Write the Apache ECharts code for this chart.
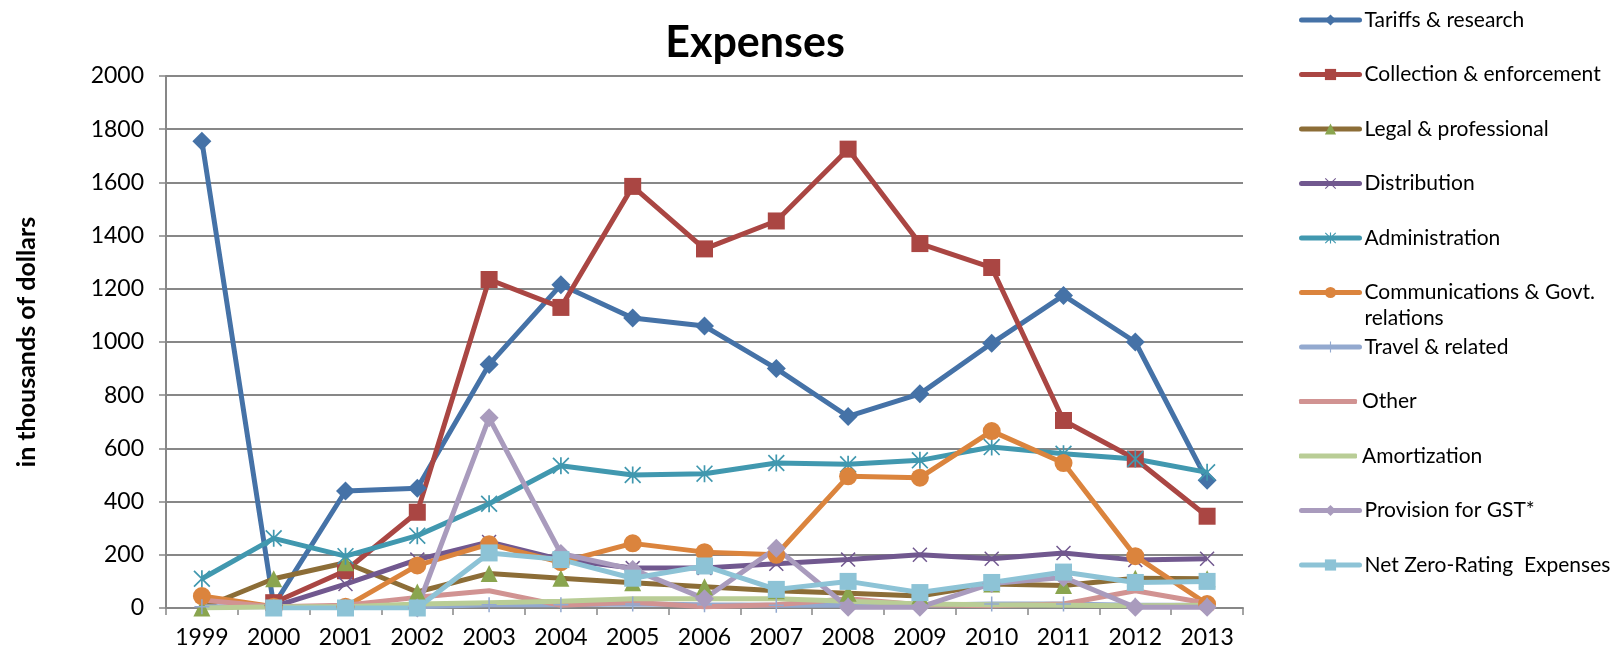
<!DOCTYPE html>
<html>
<head>
<meta charset="utf-8">
<script src="https://cdn.jsdelivr.net/npm/echarts@6/dist/echarts.min.js"></script>
<style>html,body{margin:0;padding:0;background:#fff;}#c{width:1612px;height:656px;}</style>
</head>
<body>
<div id="c"></div>
<script>
var years = ['1999','2000','2001','2002','2003','2004','2005','2006','2007','2008','2009','2010','2011','2012','2013'];
var yTicks = [0,200,400,600,800,1000,1200,1400,1600,1800,2000];
var seriesNames = ['Tariffs & research','Collection & enforcement','Legal & professional','Distribution','Administration','Communications & Govt. relations','Travel & related','Other','Amortization','Provision for GST*','Net Zero-Rating  Expenses'];

var tariffs      = [1755, 10, 440, 450, 915, 1215, 1090, 1060, 900, 720, 805, 995, 1175, 1000, 480];
var collection   = [null, 20, 140, 360, 1235, 1130, 1585, 1350, 1455, 1725, 1370, 1280, 705, 560, 345];
var legal        = [0, 110, 170, 60, 130, 112, 95, 80, 65, 55, 45, 90, 85, 112, 110];
var distribution = [null, 5, 90, 182, 248, 182, 150, 150, 166, 182, 200, 185, 207, 180, 185];
var administration = [110, 262, 195, 272, 392, 535, 500, 505, 545, 540, 555, 605, 580, 560, 510];
var communications = [45, 5, 5, 160, 240, 172, 243, 210, 200, 495, 490, 665, 545, 195, 15];
var travel       = [5, 5, 5, 5, 12, 12, 15, 12, 10, 10, 10, 15, 15, 10, 10];
var other        = [30, 5, 10, 40, 65, 10, 22, 5, 12, 35, 12, 8, 15, 65, 18];
var amortization = [0, 5, 5, 15, 20, 25, 35, 35, 35, 25, 15, 12, 10, 8, 10];
var provision    = [null, null, null, 0, 715, 205, 145, 35, 225, 3, 3, 92, 115, 3, 3];
var netZero      = [null, 0, 0, 0, 207, 182, 112, 158, 70, 100, 58, 96, 135, 96, 100];

var seriesData = [tariffs, collection, legal, distribution, administration, communications, travel, other, amortization, provision, netZero];

var X_PATH = 'path://M0,7 L7,0 L50,43 L93,0 L100,7 L57,50 L100,93 L93,100 L50,57 L7,100 L0,93 L43,50 Z';
var STAR_PATH = 'path://M0,7 L7,0 L50,43 L93,0 L100,7 L57,50 L100,93 L93,100 L50,57 L7,100 L0,93 L43,50 Z M45,0 L55,0 L55,100 L45,100 Z';
var PLUS_PATH = 'path://M45,0 L55,0 L55,45 L100,45 L100,55 L55,55 L55,100 L45,100 L45,55 L0,55 L0,45 L45,45 Z';

var styles = [
  {line:'#4572A7', mark:'#4572A7', symbol:'diamond', size:19},
  {line:'#AA4643', mark:'#AA4643', symbol:'rect', size:17},
  {line:'#8C6D37', mark:'#8AA54F', symbol:'triangle', size:17},
  {line:'#71588F', mark:'#71588F', symbol:X_PATH, size:15},
  {line:'#4198AF', mark:'#4198AF', symbol:STAR_PATH, size:17},
  {line:'#DB843D', mark:'#DB843D', symbol:'circle', size:18},
  {line:'#93A9CF', mark:'#93A9CF', symbol:PLUS_PATH, size:15},
  {line:'#D19392', mark:'#D19392', symbol:'none', size:0},
  {line:'#B9CD96', mark:'#B9CD96', symbol:'none', size:0},
  {line:'#A99BBD', mark:'#A99BBD', symbol:'diamond', size:19},
  {line:'#8DC3D6', mark:'#8DC3D6', symbol:'rect', size:17}
];

var legendCenters = [15, 69.5, 124, 178.5, 233, 287.5, 342, 396.5, 451, 505.5, 560];

var legends = seriesNames.map(function(n, i){
  var isComm = (i === 5);
  var noMark = (styles[i].symbol === 'none');
  var item = noMark ? {name: n, icon: 'roundRect', itemStyle: {color: styles[i].line}} : {name: n};
  return {
    data: [item],
    orient: 'vertical',
    left: 1294,
    top: isComm ? legendCenters[i] - 39 : legendCenters[i] - 13,
    itemWidth: 58,
    itemHeight: noMark ? 5 : 14,
    itemGap: 0,
    selectedMode: false,
    lineStyle: {width: 5, cap: 'round'},
    formatter: isComm ? function(){ return ' \nCommunications & Govt.\nrelations'; } : '{name}',
    textStyle: {fontFamily:'Lato', fontSize:21, color:'#000', lineHeight:26}
  };
});

var series = seriesNames.map(function(n, i){
  var s = styles[i];
  return {
    name: n,
    type: 'line',
    data: seriesData[i],
    symbol: s.symbol,
    symbolSize: s.size,
    showSymbol: s.symbol !== 'none',
    connectNulls: false,
    lineStyle: {color: s.line, width: 5},
    itemStyle: {color: s.mark, borderWidth: 0},
    emphasis: {disabled: true},
    animation: false
  };
});

var chart = echarts.init(document.getElementById('c'));
chart.setOption({
  backgroundColor: '#ffffff',
  animation: false,
  title: {
    text: 'Expenses',
    left: 750, top: 17,
    textAlign: 'center',
    textStyle: {fontFamily:'Lato', fontSize:43, fontWeight:'bold', color:'#000'}
  },
  legend: legends,
  grid: {left: 166, right: 369, top: 76, bottom: 48, containLabel: false},
  xAxis: {
    type: 'category',
    data: years,
    boundaryGap: true,
    axisLine: {lineStyle: {color:'#878787', width:2}},
    axisTick: {show:true, length:7, lineStyle:{color:'#878787', width:1.5}},
    axisLabel: {fontFamily:'Lato', fontSize:23, color:'#000', margin:18},
    splitLine: {show:false}
  },
  yAxis: {
    type: 'value',
    min: yTicks[0], max: yTicks[yTicks.length-1], interval: 200,
    name: 'in thousands of dollars',
    nameLocation: 'middle',
    nameRotate: 90,
    nameGap: 127,
    nameTextStyle: {fontFamily:'Lato', fontSize:25, fontWeight:'bold', color:'#000'},
    axisLine: {show:true, lineStyle: {color:'#878787', width:2}},
    axisTick: {show:true, length:7, lineStyle:{color:'#878787', width:1.5}},
    axisLabel: {fontFamily:'Lato', fontSize:23, color:'#000', margin:22, formatter: function(v){ return String(v); }},
    splitLine: {show:true, lineStyle:{color:'#878787', width:1.8}}
  },
  series: series
});
</script>
</body>
</html>
